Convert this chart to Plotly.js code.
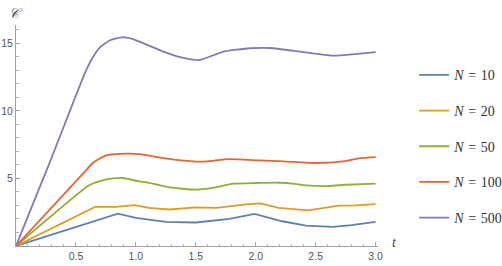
<!DOCTYPE html>
<html>
<head>
<meta charset="utf-8">
<script src="https://cdn.plot.ly/plotly-3.0.1.min.js"></script>
<style>html,body{margin:0;padding:0;background:#fff;}#chart{width:502px;height:266px;}</style>
</head>
<body>
<div id="chart"></div>
<script>
// Data
const seriesNames = ["<i>N</i> \u200a=\u200a 10", "<i>N</i> \u200a=\u200a 20", "<i>N</i> \u200a=\u200a 50", "<i>N</i> \u200a=\u200a 100", "<i>N</i> \u200a=\u200a 500"];

const tN10 = [0, 0.85, 1.0, 1.25, 1.5, 1.78, 1.99, 2.22, 2.42, 2.64, 2.8, 3.0];
const cN10 = [0, 2.4, 2.08, 1.79, 1.74, 2.0, 2.37, 1.83, 1.51, 1.42, 1.54, 1.78];

const tN20 = [0, 0.66, 0.83, 0.99, 1.11, 1.28, 1.5, 1.67, 1.92, 2.04, 2.19, 2.44, 2.69, 2.83, 3.0];
const cN20 = [0, 2.89, 2.89, 3.03, 2.82, 2.7, 2.86, 2.82, 3.08, 3.15, 2.82, 2.64, 2.98, 3.0, 3.1];

const tN50 = [0, 0.61, 0.7, 0.81, 0.89, 1.03, 1.09, 1.28, 1.5, 1.64, 1.81, 2.0, 2.2, 2.31, 2.42, 2.61, 2.75, 3.0];
const cN50 = [0, 4.49, 4.8, 5.0, 5.03, 4.78, 4.71, 4.34, 4.17, 4.3, 4.61, 4.66, 4.68, 4.61, 4.49, 4.44, 4.53, 4.62];

const tN100 = [0, 0.59, 0.64, 0.75, 0.92, 1.03, 1.23, 1.48, 1.59, 1.78, 2.03, 2.23, 2.5, 2.73, 2.87, 3.0];
const cN100 = [0, 5.65, 6.14, 6.7, 6.83, 6.8, 6.5, 6.26, 6.26, 6.43, 6.33, 6.26, 6.14, 6.26, 6.5, 6.58];

const tN500 = [0, 0.3, 0.58, 0.64, 0.7, 0.78, 0.88, 0.97, 1.05, 1.23, 1.38, 1.53, 1.73, 1.95, 2.12, 2.37, 2.64, 2.85, 3.0];
const cN500 = [0, 6.6, 12.9, 13.95, 14.7, 15.2, 15.44, 15.33, 15.05, 14.38, 13.95, 13.76, 14.38, 14.63, 14.65, 14.38, 14.08, 14.22, 14.35];

const xTickVals = [0.5, 1.0, 1.5, 2.0, 2.5, 3.0];
const xTickText = ["0.5", "1.0", "1.5", "2.0", "2.5", "3.0"];
const yTickVals = [5, 10, 15];
const yTickText = ["5", "10", "15"];

const colors = ["#5E81B5", "#E19C24", "#8FB032", "#EB6235", "#8778B3"];
const shapes = ["linear", "linear", "spline", "spline", "spline"];
const ts = [tN10, tN20, tN50, tN100, tN500];
const cs = [cN10, cN20, cN50, cN100, cN500];

const traces = ts.map((t, i) => ({
  x: t, y: cs[i], type: "scatter", mode: "lines", name: seriesNames[i],
  legendgroup: "g" + i,
  line: {color: colors[i], width: 1.8, shape: shapes[i], smoothing: 0.5}
}));

const axisCommon = {
  showgrid: false, zeroline: false, showline: true, linecolor: "#a0a0a0", linewidth: 1,
  ticks: "inside", ticklen: 4, tickcolor: "#a0a0a0", tickwidth: 1,
  tickfont: {family: "Liberation Sans, Arial, sans-serif", size: 10.5, color: "#555"},
  tickmode: "array"
};

const layout = {
  width: 502, height: 266,
  margin: {l: 16, r: 124, t: 25, b: 19.5, autoexpand: false},
  paper_bgcolor: "#fff", plot_bgcolor: "#fff",
  showlegend: true,
  legend: {
    x: 1.1, xanchor: "left", y: 0.845, yanchor: "top",
    font: {family: "Liberation Serif, Times New Roman, serif", size: 14, color: "#333"},
    tracegroupgap: 14.5, itemwidth: 30, bgcolor: "rgba(0,0,0,0)"
  },
  xaxis: Object.assign({}, axisCommon, {
    range: [0, 3.02], tickvals: xTickVals, ticktext: xTickText,
    minor: {dtick: 0.1, tick0: 0, ticks: "inside", ticklen: 2.5, tickcolor: "#b0b0b0", showgrid: false}
  }),
  yaxis: Object.assign({}, axisCommon, {
    range: [0, 16.35], tickvals: yTickVals, ticktext: yTickText,
    minor: {dtick: 1, tick0: 0, ticks: "inside", ticklen: 2.5, tickcolor: "#b0b0b0", showgrid: false}
  }),
  annotations: [
    {xref: "paper", yref: "paper", x: 0, y: 1, xanchor: "center", yanchor: "bottom", yshift: 2,
     text: "<i>𝒞</i>", showarrow: false,
     font: {family: "DejaVu Serif, Liberation Serif, serif", size: 14, color: "#444"}},
    {xref: "paper", yref: "paper", x: 1, y: 0, xanchor: "left", yanchor: "middle", xshift: 12, yshift: 4,
     text: "<i>t</i>", showarrow: false,
     font: {family: "Liberation Serif, Times New Roman, serif", size: 14, color: "#444"}}
  ]
};

Plotly.newPlot("chart", traces, layout, {displayModeBar: false, staticPlot: true});
</script>
</body>
</html>
